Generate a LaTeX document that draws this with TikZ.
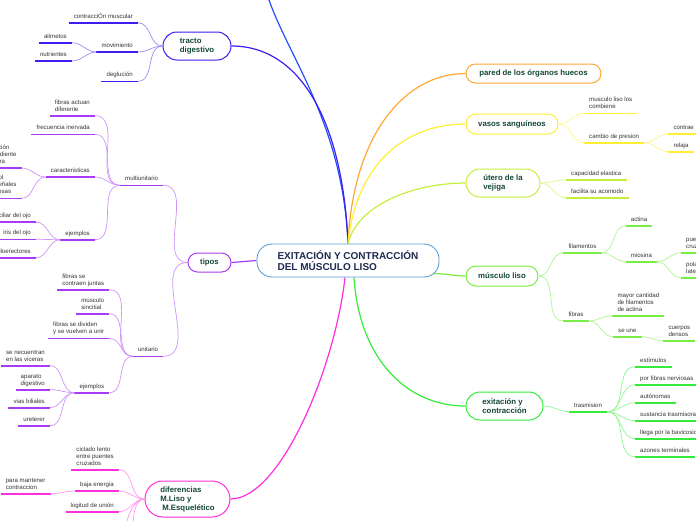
\documentclass[tikz,border=0pt]{standalone}
\usepackage{fontspec}
\setmainfont{Liberation Sans}
\usetikzlibrary{backgrounds}

\definecolor{ink}{HTML}{14463A}
\definecolor{navy}{HTML}{1C2B4E}
\definecolor{leafgray}{HTML}{333333}
\definecolor{centreblue}{HTML}{5A9FD6}
\definecolor{topblue}{HTML}{2350FF}
\definecolor{tractocol}{HTML}{3E1DF0}
\definecolor{tiposcol}{HTML}{A83CF5}
\definecolor{difcol}{HTML}{FF2EDD}
\definecolor{paredcol}{HTML}{FFA733}
\definecolor{vasoscol}{HTML}{FFEE33}
\definecolor{uterocol}{HTML}{C4F03C}
\definecolor{lisocol}{HTML}{78EE45}
\definecolor{exitcol}{HTML}{35EC3A}

\tikzset{
  centre/.style={draw=centreblue, line width=0.9pt, fill=white, rounded corners=15pt,
    minimum width=182pt, minimum height=33pt, inner sep=0pt, align=left, text=navy,
    font=\bfseries\fontsize{10}{11}\selectfont},
  topic/.style={draw=#1, line width=1pt, fill=white, rounded corners=9.5pt, inner sep=0pt,
    align=left, text=ink, font=\bfseries\fontsize{7.8}{9}\selectfont},
  leaf/.style={inner xsep=5pt, inner ysep=2.2pt, align=left, text=leafgray,
    font=\fontsize{6.1}{7}\selectfont, execute at end node=\strut,
    append after command={(\tikzlastnode.south west) edge[uline] (\tikzlastnode.south east)}},
  branch/.style={draw=#1, line width=1.2pt},
  uline/.style={draw=gray, line width=1.6pt},
  conn/.style={draw=gray!50, line width=0.7pt}
}

\begin{document}
\begin{tikzpicture}[x=1pt,y=-1pt]
\useasboundingbox (0,0) rectangle (696,520);

% centre and main topics
\node[centre] (centre) at (348,260.5) {EXITACIÓN Y CONTRACCIÓN\\DEL MÚSCULO LISO};
\node[topic=tractocol, minimum width=68pt, minimum height=28pt, rounded corners=14pt] (tracto) at (197,46) {tracto\\digestivo};
\node[topic=tiposcol, minimum width=43pt, minimum height=19pt] (tipos) at (209.5,262.5) {tipos};
\node[topic=difcol, minimum width=85pt, minimum height=36pt, rounded corners=18pt] (dif) at (187.5,499) {diferencias\\M.Liso y\\\hspace*{2pt}M.Esquelético};
\node[topic=paredcol, minimum width=135pt, minimum height=19pt] (pared) at (533.5,73.5) {pared de los órganos huecos};
\node[topic=vasoscol, minimum width=92pt, minimum height=20pt, rounded corners=10pt] (vasos) at (512,124) {vasos sanguíneos};
\node[topic=uterocol, minimum width=74pt, minimum height=28pt, rounded corners=14pt] (utero) at (503,183) {útero de la\\vejiga};
\node[topic=lisocol, minimum width=72pt, minimum height=20pt, rounded corners=10pt] (liso) at (502,276) {músculo liso};
\node[topic=exitcol, minimum width=77pt, minimum height=28pt, rounded corners=14pt] (exit) at (504.5,406) {exitación y\\contracción};

% main branches
\begin{scope}[on background layer]
\coordinate (ctop) at (centre.north);
\coordinate (cbot) at ([xshift=6pt]centre.south);
\coordinate (cbotl) at ([xshift=-3pt]centre.south);
\coordinate (offtop) at (268,-3);
\draw[branch=topblue] (ctop) .. controls +(-5,-120) and +(20,60) .. (offtop);
\draw[branch=tractocol] (ctop) .. controls +(-5,-120) and +(70,0) .. (tracto.east);
\draw[branch=paredcol] (ctop) .. controls +(5,-110) and +(-60,0) .. (pared.west);
\draw[branch=vasoscol] (ctop) .. controls +(8,-80) and +(-60,0) .. (vasos.west);
\draw[branch=uterocol] (ctop) .. controls +(10,-40) and +(-50,0) .. (utero.west);
\draw[branch=lisocol] ([xshift=-6pt,yshift=-13pt]centre.east) to[out=0,in=180] (liso.west);
\draw[branch=exitcol] (cbot) .. controls +(5,80) and +(-60,0) .. (exit.west);
\draw[branch=difcol] (cbotl) .. controls +(-10,90) and +(50,0) .. (dif.east);
\draw[branch=tiposcol] (centre.west) -- (tipos.east);
\end{scope}

% tracto digestivo
\begin{scope}[uline/.style={draw=tractocol,line width=1.6pt}, conn/.style={draw=tractocol!50,line width=0.7pt}]
\node[leaf, anchor=south east] (contr) at (138,22.7) {contracciÓn muscular};
\node[leaf, anchor=south east] (movim) at (138,52) {movimiento};
\node[leaf, anchor=south east] (deglu) at (138,81.3) {deglución};
\node[leaf, anchor=south east] (alim) at (72,42.7) {alimetos};
\node[leaf, anchor=south east] (nutri) at (72,61) {nutrientes};
\foreach \c in {contr,movim,deglu}
  \draw[conn] (\c.south east) to[out=0,in=180] (tracto.west);
\foreach \c in {alim,nutri}
  \draw[conn] (\c.south east) to[out=0,in=180] (movim.south west);
\end{scope}

% tipos
\begin{scope}[uline/.style={draw=tiposcol,line width=1.6pt}, conn/.style={draw=tiposcol!55,line width=0.7pt}]
\node[leaf, anchor=south east] (multi) at (163.3,185.3) {multiunitario};
\node[leaf, anchor=south east] (unit) at (163.3,356.3) {unitario};
\node[leaf, anchor=south east] (actuan) at (95,115.7) {fibras actuan\\diferente};
\node[leaf, anchor=south east] (frec) at (95,134.3) {frecuencia inervada};
\node[leaf, anchor=south east] (carac) at (95,177) {caracteristicas};
\node[leaf, anchor=south east] (ejmulti) at (95,239.7) {ejemplos};
\node[leaf, anchor=south east] (indep) at (21.7,168) {contracción\\independiente\\cada fibra};
\node[leaf, anchor=south east] (control) at (21.7,198.3) {control\\por señales\\nerviosas};
\node[leaf, anchor=south east] (ciliar) at (36,222) {músculo ciliar del ojo};
\node[leaf, anchor=south east] (iris) at (36,239.3) {iris del ojo};
\node[leaf, anchor=south east] (pilo) at (36,257.7) {músculos piloerectores};
\node[leaf, anchor=south east] (juntas) at (109.3,289.7) {fibras se\\contraen juntas};
\node[leaf, anchor=south east] (sinc) at (109.3,313.7) {músculo\\sincitial};
\node[leaf, anchor=south east] (divid) at (109.3,338.3) {fibras se dividen\\y se vuelven a unir};
\node[leaf, anchor=south east] (ejunit) at (109.3,392.7) {ejemplos};
\node[leaf, anchor=south east] (vice) at (50,365.7) {se necuentran\\en las viceras};
\node[leaf, anchor=south east] (apar) at (50,389.7) {aparato\\digestivo};
\node[leaf, anchor=south east] (vias) at (50,407.7) {vias biliales};
\node[leaf, anchor=south east] (uret) at (50,425.7) {ureterer};
\foreach \c in {multi,unit}
  \draw[conn] (\c.south east) to[out=0,in=180] (tipos.west);
\foreach \c in {actuan,frec,carac,ejmulti}
  \draw[conn] (\c.south east) to[out=0,in=180] (multi.south west);
\foreach \c in {indep,control}
  \draw[conn] (\c.south east) to[out=0,in=180] (carac.south west);
\foreach \c in {ciliar,iris,pilo}
  \draw[conn] (\c.south east) to[out=0,in=180] (ejmulti.south west);
\foreach \c in {juntas,sinc,divid,ejunit}
  \draw[conn] (\c.south east) to[out=0,in=180] (unit.south west);
\foreach \c in {vice,apar,vias,uret}
  \draw[conn] (\c.south east) to[out=0,in=180] (ejunit.south west);
\end{scope}

% diferencias
\begin{scope}[uline/.style={draw=difcol,line width=1.6pt}, conn/.style={draw=difcol!50,line width=0.7pt}]
\node[leaf, anchor=south east] (ciclado) at (119,469.7) {ciclado lento\\entre puentes\\cruzados};
\node[leaf, anchor=south east] (baja) at (119,491) {baja energia};
\node[leaf, anchor=south east] (logit) at (119,511.7) {logitud de unión};
\node[leaf, anchor=south east] (mantener) at (50.7,493.7) {para mantener\\contraccion};
\coordinate (offb1) at (126,530);
\coordinate (offb2) at (133,530);
\foreach \c in {ciclado,baja,logit}
  \draw[conn] (\c.south east) to[out=0,in=180] (dif.west);
\foreach \c in {offb1,offb2}
  \draw[conn] (dif.west) .. controls +(-10,0) and +(0,-14) .. (\c);
\draw[conn] (mantener.south east) to[out=0,in=180] (baja.south west);
\end{scope}

% vasos sanguineos
\begin{scope}[uline/.style={draw=vasoscol,line width=1.6pt}, conn/.style={draw=vasoscol!60,line width=0.7pt}]
\node[leaf, anchor=south west] (combi) at (584,113.3) {musculo liso los\\combiene};
\node[leaf, anchor=south west] (cambio) at (584,142.7) {cambio de presion};
\node[leaf, anchor=south west] (contrae) at (668.3,134) {contrae};
\node[leaf, anchor=south west] (relaja) at (668.3,151.7) {relaja};
\foreach \c in {combi,cambio}
  \draw[conn] (vasos.east) to[out=0,in=180] (\c.south west);
\foreach \c in {contrae,relaja}
  \draw[conn] (cambio.south east) to[out=0,in=180] (\c.south west);
\end{scope}

% utero
\begin{scope}[uline/.style={draw=uterocol,line width=1.6pt}, conn/.style={draw=uterocol!60,line width=0.7pt}]
\node[leaf, anchor=south west] (capac) at (566,180) {capacidad elastica};
\node[leaf, anchor=south west] (facil) at (566,197.7) {facilita su acomodo};
\foreach \c in {capac,facil}
  \draw[conn] (utero.east) to[out=0,in=180] (\c.south west);
\end{scope}

% musculo liso
\begin{scope}[uline/.style={draw=lisocol,line width=1.6pt}, conn/.style={draw=lisocol!60,line width=0.7pt}]
\node[leaf, anchor=south west] (filam) at (563.3,252.7) {filamentos};
\node[leaf, anchor=south west] (fibras) at (563.3,321) {fibras};
\node[leaf, anchor=south west] (actina) at (625.7,225.7) {actina};
\node[leaf, anchor=south west] (miosina) at (625.7,261.7) {miosina};
\node[leaf, anchor=south west] (puentes) at (681,252.7) {puentes\\cruzados};
\node[leaf, anchor=south west] (polar) at (681,277.7) {polarizados\\lateralmente};
\node[leaf, anchor=south west] (mayor) at (612.3,315.7) {mayor cantidad\\de filamentos\\de actina};
\node[leaf, anchor=south west] (seune) at (613,336.7) {se une};
\node[leaf, anchor=south west] (cuerpos) at (663.3,340.7) {cuerpos\\densos};
\foreach \c in {filam,fibras}
  \draw[conn] (liso.east) to[out=0,in=180] (\c.south west);
\foreach \c in {actina,miosina}
  \draw[conn] (filam.south east) to[out=0,in=180] (\c.south west);
\foreach \c in {puentes,polar}
  \draw[conn] (miosina.south east) to[out=0,in=180] (\c.south west);
\foreach \c in {mayor,seune}
  \draw[conn] (fibras.south east) to[out=0,in=180] (\c.south west);
\draw[conn] (seune.south east) to[out=0,in=180] (cuerpos.south west);
\end{scope}

% exitacion y contraccion
\begin{scope}[uline/.style={draw=exitcol,line width=1.6pt}, conn/.style={draw=exitcol!55,line width=0.7pt}]
\node[leaf, anchor=south west] (trasm) at (569,411.7) {trasmision};
\node[leaf, anchor=south west] (estim) at (635,366.7) {estímulos};
\node[leaf, anchor=south west] (porfib) at (635,384.7) {por fibras nerviosas};
\node[leaf, anchor=south west] (auton) at (635,402.7) {autónomas};
\node[leaf, anchor=south west] (sustan) at (635,420.7) {sustancia trasmisora};
\node[leaf, anchor=south west] (llega) at (635,438.7) {llega por la bavicosidades};
\node[leaf, anchor=south west] (azones) at (635,456.7) {azones terminales};
\draw[conn] (exit.east) to[out=0,in=180] (trasm.south west);
\foreach \c in {estim,porfib,auton,sustan,llega,azones}
  \draw[conn] (trasm.south east) to[out=0,in=180] (\c.south west);
\end{scope}
\end{tikzpicture}
\end{document}
